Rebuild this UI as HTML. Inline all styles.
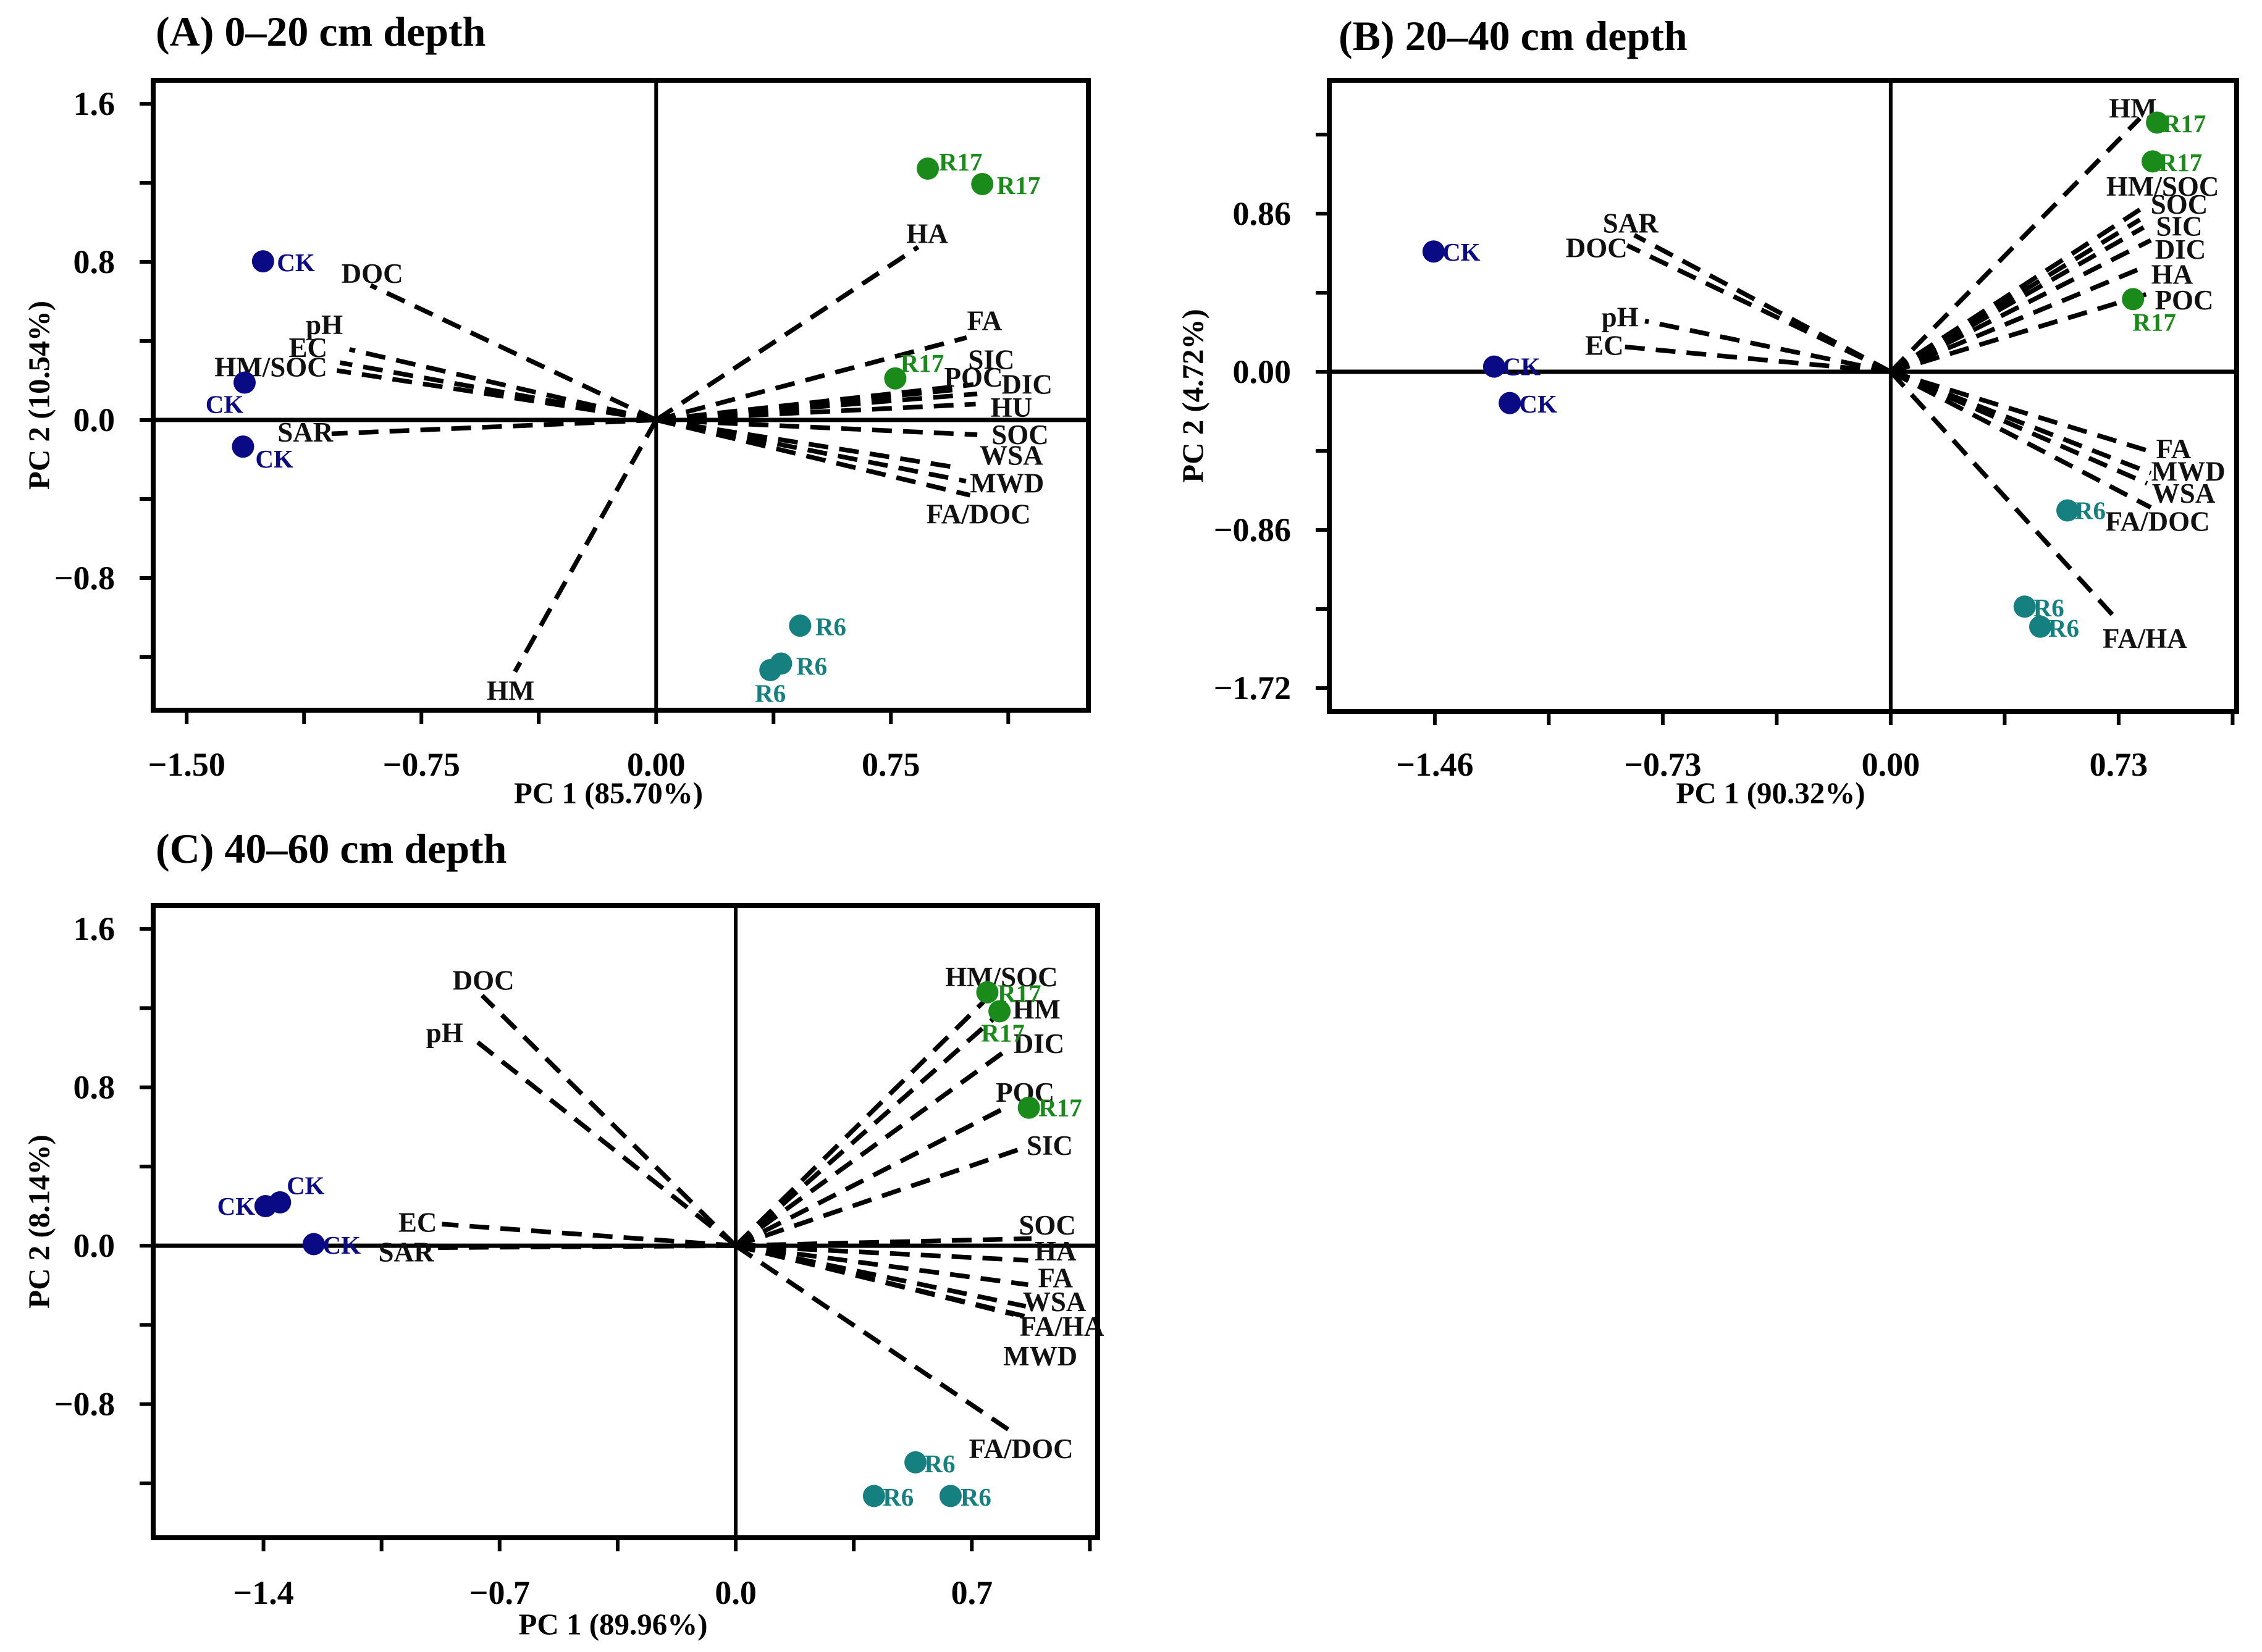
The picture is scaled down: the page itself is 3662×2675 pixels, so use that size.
<!DOCTYPE html>
<html><head><meta charset="utf-8">
<style>
html,body{margin:0;padding:0;background:#fff;}
svg{display:block;}
text{font-family:"Liberation Serif",serif;font-weight:bold;}
</style></head>
<body>
<svg id="fig" width="3662" height="2675" viewBox="0 0 3662 2675" xmlns="http://www.w3.org/2000/svg">
<rect width="3662" height="2675" fill="#fff"/>
</svg>
<script>
// ---------- Panel A data ----------
const aVarNames = ["DOC","pH","EC","HM/SOC","SAR","HM","HA","FA","SIC","POC","DIC","HU","SOC","WSA","MWD","FA/DOC"];
const aVarX = [-0.912,-0.98,-1.01,-1.02,-1.037,-0.451,0.837,0.992,1.014,0.957,1.026,1.021,1.026,0.969,1.003,0.99];
const aVarY = [0.681,0.357,0.29,0.25,-0.07,-1.274,0.875,0.417,0.179,0.153,0.132,0.08,-0.075,-0.243,-0.381,-0.31];
const aVarLX = [-0.907,-1.06,-1.112,-1.231,-1.121,-0.465,0.866,1.049,1.071,1.014,1.185,1.135,1.163,1.135,1.121,1.03];
const aVarLY = [0.74,0.482,0.365,0.267,-0.062,-1.37,0.942,0.502,0.305,0.215,0.179,0.062,-0.075,-0.179,-0.321,-0.476];
const aPtGroup = ["CK","CK","CK","R17","R17","R17","R6","R6","R6"];
const aPtX = [-1.256,-1.315,-1.32,0.868,1.042,0.764,0.46,0.399,0.365];
const aPtY = [0.803,0.189,-0.135,1.272,1.194,0.21,-1.041,-1.233,-1.266];
const aPtLX = [-1.151,-1.379,-1.22,0.973,1.158,0.85,0.558,0.497,0.365];
const aPtLY = [0.797,0.08,-0.197,1.307,1.188,0.287,-1.046,-1.245,-1.383];
const aXTicks = [-1.5,-1.125,-0.75,-0.375,0,0.375,0.75,1.125];
const aXTickLabels = ["\u22121.50","","\u22120.75","","0.00","","0.75",""];
const aYTicks = [1.6,1.2,0.8,0.4,0,-0.4,-0.8,-1.2];
const aYTickLabels = ["1.6","","0.8","","0.0","","\u22120.8",""];

// ---------- Panel B data ----------
const bVarNames = ["SAR","DOC","pH","EC","HM","HM/SOC","SOC","SIC","DIC","HA","POC","FA","MWD","WSA","FA/DOC","FA/HA"];
const bVarX = [-0.821,-0.844,-0.787,-0.855,0.798,0.798,0.798,0.81,0.833,0.821,0.833,0.844,0.833,0.821,0.833,0.73];
const bVarY = [0.743,0.687,0.276,0.136,1.378,0.882,0.827,0.785,0.715,0.576,0.429,-0.44,-0.551,-0.607,-0.738,-1.358];
const bVarLX = [-0.833,-0.942,-0.867,-0.917,0.776,0.871,0.924,0.924,0.928,0.901,0.94,0.906,0.953,0.938,0.855,0.814];
const bVarLY = [0.807,0.674,0.298,0.142,1.433,1.008,0.91,0.79,0.665,0.529,0.39,-0.42,-0.543,-0.662,-0.815,-1.45];
const bPtGroup = ["CK","CK","CK","R17","R17","R17","R6","R6","R6"];
const bPtX = [-1.464,-1.27,-1.22,0.853,0.839,0.776,0.566,0.429,0.479];
const bPtY = [0.654,0.028,-0.17,1.355,1.144,0.395,-0.754,-1.277,-1.386];
const bPtLX = [-1.375,-1.182,-1.129,0.94,0.928,0.844,0.639,0.506,0.554];
const bPtLY = [0.651,0.028,-0.175,1.35,1.138,0.27,-0.754,-1.283,-1.394];
const bXTicks = [-1.46,-1.095,-0.73,-0.365,0,0.365,0.73,1.095];
const bXTickLabels = ["\u22121.46","","\u22120.73","","0.00","","0.73",""];
const bYTicks = [1.29,0.86,0.43,0,-0.43,-0.86,-1.29,-1.72];
const bYTickLabels = ["","0.86","","0.00","","\u22120.86","","\u22121.72"];

// ---------- Panel C data ----------
const cVarNames = ["DOC","pH","EC","SAR","HM/SOC","HM","DIC","POC","SIC","SOC","HA","FA","WSA","FA/HA","MWD","FA/DOC"];
const cVarX = [-0.752,-0.79,-0.871,-0.918,0.739,0.771,0.807,0.803,0.85,0.877,0.867,0.867,0.86,0.856,0.824,0.814];
const cVarY = [1.264,1.061,0.109,-0.01,1.239,1.157,0.993,0.7,0.492,0.036,-0.074,-0.197,-0.306,-0.356,-0.347,-0.935];
const cVarLX = [-0.748,-0.863,-0.943,-0.977,0.788,0.892,0.899,0.858,0.931,0.924,0.948,0.948,0.945,0.967,0.903,0.846];
const cVarLY = [1.34,1.075,0.118,-0.033,1.357,1.193,1.02,0.774,0.506,0.104,-0.027,-0.164,-0.284,-0.408,-0.558,-1.026];
const cPtGroup = ["CK","CK","CK","R17","R17","R17","R6","R6","R6"];
const cPtX = [-1.351,-1.394,-1.251,0.746,0.782,0.869,0.533,0.41,0.637];
const cPtY = [0.219,0.2,0.008,1.28,1.184,0.697,-1.094,-1.264,-1.264];
const cPtLX = [-1.275,-1.481,-1.168,0.841,0.792,0.962,0.605,0.482,0.712];
const cPtLY = [0.304,0.2,0.003,1.275,1.075,0.697,-1.1,-1.269,-1.269];
const cXTicks = [-1.4,-1.05,-0.7,-0.35,0,0.35,0.7,1.05];
const cXTickLabels = ["\u22121.4","","\u22120.7","","0.0","","0.7",""];
const cYTicks = [1.6,1.2,0.8,0.4,0,-0.4,-0.8,-1.2];
const cYTickLabels = ["1.6","","0.8","","0.0","","\u22120.8",""];

const groupColors = {CK:"#0a0a85", R17:"#1a8a1a", R6:"#15807f"};
const NS = "http://www.w3.org/2000/svg";
const fig = document.getElementById("fig");

function mk(tag, attrs, parent){
  const e = document.createElementNS(NS, tag);
  for (const k in attrs) e.setAttribute(k, attrs[k]);
  parent.appendChild(e);
  return e;
}

function drawPanel(p){
  const g = mk("g", {}, fig);
  
  
  const sx = v => p.left + (v - p.xmin) / (p.xmax - p.xmin) * (p.right - p.left);
  const sy = v => p.bottom - (v - p.ymin) / (p.ymax - p.ymin) * (p.bottom - p.top);

  const title = mk("text", {x:p.titleX, y:p.titleY, "font-size":68, "dominant-baseline":"central"}, g);
  title.textContent = p.title;
  
  

  const zx = mk("line", {x1:sx(0), x2:sx(0), y1:p.top, y2:p.bottom, stroke:"#000", "stroke-width":6}, g);
  
  
  const zy = mk("line", {x1:p.left, x2:p.right, y1:sy(0), y2:sy(0), stroke:"#000", "stroke-width":7}, g);
  
  

  for (let i = 0; i < p.vn.length; i++){
    const ln = mk("line", {x1:sx(0), y1:sy(0), x2:sx(p.vx[i]), y2:sy(p.vy[i]), stroke:"#000", "stroke-width":7.5, "stroke-dasharray":"32 18"}, g);
    
    
    const t = mk("text", {x:sx(p.vlx[i]), y:sy(p.vly[i]), "font-size":45, "text-anchor":"middle", "dominant-baseline":"central", fill:"#111"}, g);
    t.textContent = p.vn[i];
    
    
  }

  for (let i = 0; i < p.pg.length; i++){
    const col = groupColors[p.pg[i]];
    const c = mk("circle", {cx:sx(p.px[i]), cy:sy(p.py[i]), r:18, fill:col}, g);
    
    
    const t = mk("text", {x:sx(p.plx[i]), y:sy(p.ply[i]), "font-size":41, "text-anchor":"middle", "dominant-baseline":"central", fill:col}, g);
    t.textContent = p.pg[i];
    
    
  }

  const fr = mk("rect", {x:p.left, y:p.top, width:p.right - p.left, height:p.bottom - p.top, fill:"none", stroke:"#000", "stroke-width":8}, g);
  
  

  for (let i = 0; i < p.xt.length; i++){
    const x = sx(p.xt[i]);
    const tk = mk("line", {x1:x, x2:x, y1:p.bottom, y2:p.bottom + 22, stroke:"#000", "stroke-width":6}, g);
    
    
    if (p.xtl[i]){
      const t = mk("text", {x:x, y:p.xLabY, "font-size":54, "text-anchor":"middle", "dominant-baseline":"central"}, g);
      t.textContent = p.xtl[i];
      
      
    }
  }
  for (let i = 0; i < p.yt.length; i++){
    const y = sy(p.yt[i]);
    const tk = mk("line", {x1:p.left - 22, x2:p.left, y1:y, y2:y, stroke:"#000", "stroke-width":6}, g);
    
    
    if (p.ytl[i]){
      const t = mk("text", {x:p.left - 62, y:y, "font-size":54, "text-anchor":"end", "dominant-baseline":"central"}, g);
      t.textContent = p.ytl[i];
      
      
    }
  }
  const xt = mk("text", {x:(p.left + p.right) / 2 - 20, y:p.xTitleY, "font-size":49, "text-anchor":"middle", "dominant-baseline":"central"}, g);
  xt.textContent = p.xTitle;
  
  
  const cy = (p.top + p.bottom) / 2;
  const yt = mk("text", {x:p.yTitleX, y:cy, "font-size":49, "text-anchor":"middle", "dominant-baseline":"central", transform:"rotate(-90 " + p.yTitleX + " " + cy + ")"}, g);
  yt.textContent = p.yTitle;
  
  
}

drawPanel({id:"panel-a", title:"(A) 0\u201320 cm depth", titleX:252, titleY:51,
  left:248, right:1762, top:130, bottom:1150, xmin:-1.607, xmax:1.381, ymin:-1.469, ymax:1.719,
  vn:aVarNames, vx:aVarX, vy:aVarY, vlx:aVarLX, vly:aVarLY,
  pg:aPtGroup, px:aPtX, py:aPtY, plx:aPtLX, ply:aPtLY,
  xt:aXTicks, xtl:aXTickLabels, yt:aYTicks, ytl:aYTickLabels,
  xLabY:1238, xTitleY:1284, yTitleX:63, xTitle:"PC 1 (85.70%)", yTitle:"PC 2 (10.54%)"});

drawPanel({id:"panel-b", title:"(B) 20\u201340 cm depth", titleX:2167, titleY:58,
  left:2152, right:3621, top:130, bottom:1152, xmin:-1.798, xmax:1.108, ymin:-1.847, ymax:1.585,
  vn:bVarNames, vx:bVarX, vy:bVarY, vlx:bVarLX, vly:bVarLY,
  pg:bPtGroup, px:bPtX, py:bPtY, plx:bPtLX, ply:bPtLY,
  xt:bXTicks, xtl:bXTickLabels, yt:bYTicks, ytl:bYTickLabels,
  xLabY:1238, xTitleY:1284, yTitleX:1931, xTitle:"PC 1 (90.32%)", yTitle:"PC 2 (4.72%)"});

drawPanel({id:"panel-c", title:"(C) 40\u201360 cm depth", titleX:252, titleY:1374,
  left:248, right:1777, top:1466, bottom:2490, xmin:-1.727, xmax:1.073, ymin:-1.475, ymax:1.719,
  vn:cVarNames, vx:cVarX, vy:cVarY, vlx:cVarLX, vly:cVarLY,
  pg:cPtGroup, px:cPtX, py:cPtY, plx:cPtLX, ply:cPtLY,
  xt:cXTicks, xtl:cXTickLabels, yt:cYTicks, ytl:cYTickLabels,
  xLabY:2579, xTitleY:2630, yTitleX:63, xTitle:"PC 1 (89.96%)", yTitle:"PC 2 (8.14%)"});
</script>
</body></html>
